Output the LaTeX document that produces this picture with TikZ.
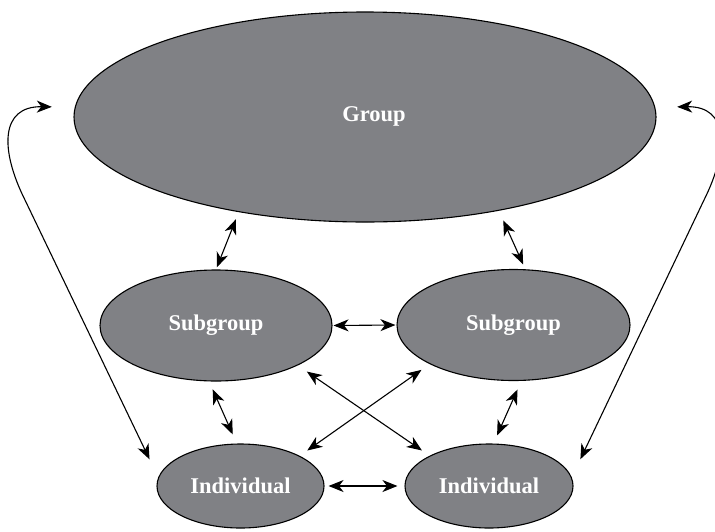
\documentclass[tikz,border=0pt]{standalone}
\usepackage{fontspec}
\setmainfont{Liberation Serif}
\usetikzlibrary{shapes.geometric,arrows.meta,calc}
\definecolor{nodegray}{RGB}{128,129,133}
\begin{document}
\begin{tikzpicture}[x=1pt,y=-1pt,
  blob/.style={ellipse, draw=black, line width=1.1pt, fill=nodegray, inner sep=0pt,
    text=white, font=\fontsize{22.5}{27}\selectfont\bfseries},
  link/.style={line width=1.1pt, {Stealth[length=15pt,width=12pt,inset=4.5pt]}-{Stealth[length=15pt,width=12pt,inset=4.5pt]}}]
\useasboundingbox (0,0) rectangle (715,531);
\node[blob, minimum width=582pt, minimum height=210pt] (group) at (365,117) {\hspace*{18pt}Group\rule[-6pt]{0pt}{0pt}};
\node[blob, minimum width=232pt, minimum height=111pt] (subL) at (216,325.5) {Subgroup};
\node[blob, minimum width=233pt, minimum height=111pt] (subR) at (513.5,325) {Subgroup};
\node[blob, minimum width=167pt, minimum height=84pt] (indL) at (240.5,486) {Individual};
\node[blob, minimum width=168pt, minimum height=84pt] (indR) at (489,486) {Individual};
\draw[link, shorten <=7.6pt, shorten >=2.2pt] (group.217) -- (subL.90);
\draw[link, shorten <=10.6pt, shorten >=5.3pt] (group.325) -- (subR.78);
\draw[link, shorten <=1pt, shorten >=1pt] (subL.east) -- (subR.west);
\draw[link, shorten <=8.7pt, shorten >=9.9pt] (subL.263) -- (indL.95);
\draw[link, shorten <=9.4pt, shorten >=8.9pt] (subR.278) -- (indR.84);
\draw[link, shorten <=10.9pt, shorten >=9.3pt] (subL.334) -- (indR.153);
\draw[link, shorten <=10pt, shorten >=9.2pt] (subR.205) -- (indL.27);
\draw[link, shorten <=4pt, shorten >=7pt] (indL.east) -- (indR.west);
\draw[link, shorten >=20pt] ($(group.178)+(-23,0)$) .. controls (0,106) and (0,150) .. (25,200) -- (indL.174);
\draw[link, shorten >=20pt] ($(group.2)+(22,0)$) .. controls (729,106) and (729,150) .. (704,200) -- (indR.6);
\end{tikzpicture}
\end{document}
